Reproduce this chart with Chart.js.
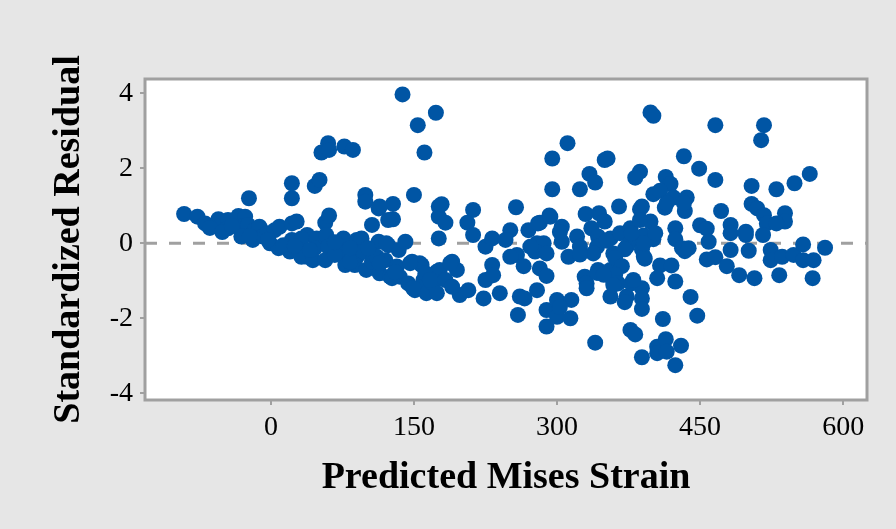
<!DOCTYPE html>
<html>
<head>
<meta charset="utf-8">
<script src="https://cdn.jsdelivr.net/npm/chart.js@4.4.1/dist/chart.umd.min.js"></script>
<style>
  html, body { margin: 0; padding: 0; background: #e6e6e6; }
  canvas { display: block; }
</style>
</head>
<body>
<canvas id="resid" width="896" height="529"></canvas>
<script>
// fitted values vs standardized residuals, one entry per observation
const predictedStrain = [
  -91, -77, -69, -55, -55, -45, -45, -34, -27, -32, -24, -31, -17, -12, -19, -8, -4, -1, 4, 8,
  9, 22, 27, 22, 20, 30, 38, 38, 32, -23, 22, 22, 46, 51, 53, 60, 61, 77, 86, 99,
  99, 113, 128, 128, 150, 106, 123, 57, 61, 32, 48, 46, 44, 58, 60, 57, 76, 72, 78, 90,
  95, 90, 97, 88, 100, 106, 113, 111, 114, 123, 120, 125, 134, 141, 132, 135, 148, 144, 151, 158,
  160, 163, 174, 170, 174, 176, 176, 176, 183, 179, 212, 206, 212, 138, 173, 154, 161, 114, 177, 183,
  190, 195, 198, 207, 190, 156, 162, 121, 114, 127, 146, 149, 188,
  -64, -51, -41, -22, -3, 13, 25, 41, 67, 83, 102, 130, 167, 67, 83,
  257, 251, 270, 292, 282, 305, 311, 295, 295, 324, 334, 340, 350, 353, 330, 344, 350, 365, 225, 232,
  246, 258, 265, 232, 225, 223, 240, 261, 266, 279, 259, 282, 289, 279, 286, 277, 289, 280, 293, 305,
  312, 321, 324, 336, 343, 356, 366, 289, 289, 300, 300, 315, 314, 329, 331, 343, 356, 359, 356, 373,
  377, 340, 342, 338, 359, 373, 251, 272, 233,
  387, 382, 433, 449, 414, 419, 401, 408, 422, 436, 434, 413, 387, 398, 377, 303, 352, 324, 378, 391,
  401, 389, 392, 371, 361, 368, 361, 364, 424, 424, 434, 450, 457, 457, 408, 420, 405, 424, 342, 331,
  349, 359, 378, 389, 389, 371, 389, 440, 447, 411, 303, 382,
  389, 405, 405, 414, 415, 430, 424,
  398, 401, 466, 517, 514, 466, 415, 433, 504, 530, 549, 565, 472, 504, 510, 517, 539, 389, 482, 498,
  520, 539, 482, 482, 498, 516, 530, 459, 431, 438, 501, 466, 478, 491, 507, 524, 524, 536, 548, 558,
  558, 569, 581, 533, 568, 391, 391, 403, 378, 387, 380
];
const standardizedResidual = [
  0.78, 0.71, 0.53, 0.64, 0.44, 0.62, 0.40, 0.73, 0.71, 0.44, 0.49, 0.18, 0.35, 0.44, 0.09, 0.18, 0.27, 0.00, 0.35, -0.13,
  0.44, 0.53, 0.58, 0.09, -0.22, -0.13, 0.22, -0.36, -0.36, 1.20, 1.60, 1.20, 1.53, 1.69, 2.42, 2.67, 2.49, 2.58, 2.49, 1.29,
  1.11, 0.93, 1.05, 0.64, 1.29, 0.49, 0.62, 0.55, 0.74, 0.13, 0.13, -0.13, -0.45, 0.22, -0.09, -0.45, 0.13, -0.22, -0.58, 0.09,
  0.13, -0.36, -0.22, -0.58, -0.71, -0.49, 0.04, -0.36, -0.80, -0.05, -0.45, -0.89, -0.18, 0.04, -0.62, -0.89, -0.49, -1.07, -1.25, -0.58,
  -0.98, -1.33, -0.76, -1.07, -1.33, 0.98, 0.71, 0.13, 0.55, 1.04, 0.89, 0.55, 0.22, 3.97, 3.48, 3.15, 2.42, 0.98, -0.71, -0.98,
  -0.49, -0.71, -1.38, -1.25, -1.16, -0.53, -0.80, 0.00, -0.53, -0.93, -0.53, -1.20, -0.53,
  0.41, 0.30, 0.46, 0.19, 0.09, -0.05, -0.07, -0.18, -0.31, -0.50, -0.13, -0.77, -0.98, 0.03, -0.13,
  0.96, 0.35, 0.35, 0.74, 0.55, 0.44, 2.67, 2.26, 1.44, 1.44, 1.85, 1.62, 2.22, 2.26, 0.78, 0.80, 0.58, 0.98, -0.09, 0.13,
  0.09, -0.31, -0.61, -0.58, -0.98, -1.47, -1.33, -1.42, -1.47, -1.25, -1.91, -0.67, -0.87, 0.00, 0.00, -0.22, -0.27, 0.53, 0.71, 0.04,
  -0.36, 0.18, -0.09, 0.40, 0.18, 0.13, 0.27, -1.78, -2.22, -1.51, -1.96, -1.51, -2.00, -0.89, -1.07, -0.71, -0.71, -1.02, -1.42, -1.42,
  -2.31, -2.65, -0.09, -0.27, -0.27, -0.09, -0.36, -0.09, -0.85,
  1.91, 1.75, 2.32, 1.99, 1.77, 1.58, 1.31, 1.40, 1.22, 1.22, 0.86, 0.95, 0.91, 0.58, 0.40, 0.30, 0.07, -0.30, 0.07, 0.21,
  0.11, -0.16, -0.41, -0.16, -0.39, -0.61, -0.84, -1.07, 0.40, 0.11, -0.21, 0.48, 0.39, -0.43, -0.59, -0.59, -0.93, -1.02, -0.79, -1.20,
  -0.84, -1.11, -1.07, -1.20, -1.47, -1.57, -1.75, -1.43, -1.93, -2.02, -1.70, -2.43,
  -3.04, -2.76, -2.93, -2.56, -2.89, -2.73, -3.25,
  3.49, 3.40, 3.15, 3.15, 2.75, 1.69, 1.07, 1.07, 1.53, 1.44, 1.60, 1.85, 0.86, 1.05, 0.93, 0.75, 0.80, 0.98, 0.49, 0.31,
  0.53, 0.58, 0.27, -0.18, 0.22, 0.22, 0.53, 0.04, -0.13, -0.13, -0.20, -0.37, -0.61, -0.85, -0.93, -0.18, -0.45, -0.36, -0.31, -0.03,
  -0.45, -0.45, -0.12, -0.85, -0.93, -0.36, 0.00, 0.27, 0.27, 0.62, -0.98
];

const xTicks = [0, 150, 300, 450, 600];
const yTicks = [-4, -2, 0, 2, 4];
const xRange = [-132, 625];
const yRange = [-4.18, 4.38];

const points = predictedStrain.map((x, i) => ({ x: x, y: standardizedResidual[i] }));

const frameColor = '#a0a0a0';
const serif = 'Liberation Serif';

// white plot panel behind the points, grey frame on top
const plotFrame = {
  id: 'plotFrame',
  beforeDraw(chart) {
    const { ctx, chartArea: a } = chart;
    ctx.save();
    ctx.fillStyle = '#ffffff';
    ctx.fillRect(a.left, a.top, a.right - a.left, a.bottom - a.top);
    ctx.restore();
  },
  afterDatasetsDraw(chart) {
    const { ctx, chartArea: a } = chart;
    ctx.save();
    ctx.strokeStyle = frameColor;
    ctx.lineWidth = 3;
    ctx.strokeRect(a.left, a.top, a.right - a.left, a.bottom - a.top);
    ctx.restore();
  }
};

new Chart(document.getElementById('resid'), {
  type: 'scatter',
  data: {
    datasets: [
      {
        data: points,
        backgroundColor: '#0055a4',
        borderWidth: 0,
        pointRadius: 8,
        pointHoverRadius: 8
      },
      {
        type: 'line',
        data: [{ x: xRange[0], y: 0 }, { x: xRange[1], y: 0 }],
        borderColor: frameColor,
        borderWidth: 3,
        borderDash: [12, 12],
        pointRadius: 0,
        fill: false
      }
    ]
  },
  options: {
    responsive: false,
    animation: false,
    layout: { padding: { top: 79, right: 29, left: 0, bottom: 0 } },
    plugins: { legend: { display: false }, tooltip: { enabled: false } },
    scales: {
      x: {
        type: 'linear',
        min: xRange[0],
        max: xRange[1],
        afterBuildTicks: s => { s.ticks = xTicks.map(v => ({ value: v })); },
        afterFit: s => { s.height = 129; },
        border: { display: false },
        grid: { drawOnChartArea: false, tickLength: 5, lineWidth: 2, color: frameColor },
        ticks: { padding: 6, color: '#000', font: { family: serif, size: 28 } },
        title: {
          display: true,
          text: 'Predicted Mises Strain',
          color: '#000',
          font: { family: serif, size: 38, weight: 'bold' },
          padding: { top: 0, bottom: 28 }
        }
      },
      y: {
        type: 'linear',
        min: yRange[0],
        max: yRange[1],
        afterBuildTicks: s => { s.ticks = yTicks.map(v => ({ value: v })); },
        afterFit: s => { s.width = 145; },
        border: { display: false },
        grid: { drawOnChartArea: false, tickLength: 5, lineWidth: 2, color: frameColor },
        ticks: { padding: 7, color: '#000', font: { family: serif, size: 28 } },
        title: {
          display: true,
          text: 'Standardized Residual',
          color: '#000',
          font: { family: serif, size: 38, weight: 'bold' },
          padding: { top: 46, bottom: 0 }
        }
      }
    }
  },
  plugins: [plotFrame]
});
</script>
</body>
</html>
